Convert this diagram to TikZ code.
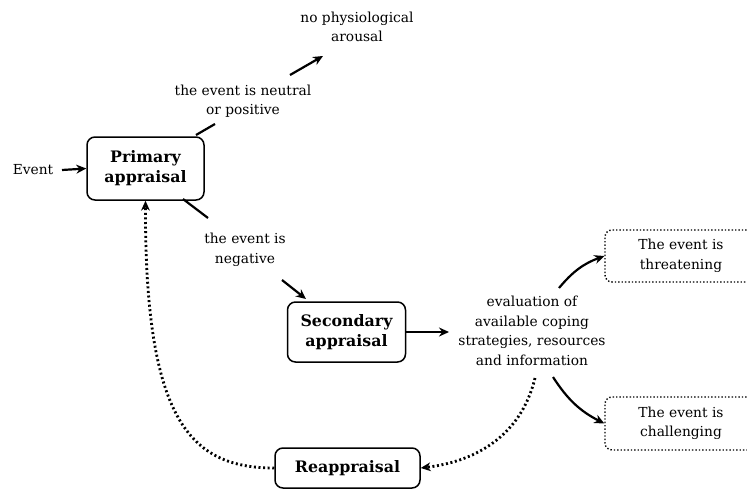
\documentclass[tikz,border=0pt]{standalone}
\usepackage{fontspec}
\setmainfont{DejaVu Serif}
\usetikzlibrary{arrows.meta}
\begin{document}
\begin{tikzpicture}[x=1pt,y=-1pt,
  every node/.style={font=\fontsize{13.8}{19.5}\selectfont, align=center, inner sep=0pt},
  mainbox/.style={draw, line width=1.5pt, rounded corners=8pt, font=\fontsize{15.8}{20}\selectfont\bfseries},
  dotbox/.style={draw, line width=1.4pt, dotted, rounded corners=7pt},
  arr/.style={line width=2.2pt, -{Stealth[length=10pt,width=9pt]}},
  plain/.style={line width=2.2pt},
  dotarr/.style={line width=2.8pt, dash pattern=on 2pt off 2.6pt, -{Stealth[length=10pt,width=9pt,line width=0pt]}}
]
\useasboundingbox (0,0) rectangle (747,490);
\clip (0,0) rectangle (747,490);

\node (event) at (33,170) {Event};
\node[mainbox, minimum width=117pt, minimum height=63pt] (primary) at (145.5,168.5) {Primary\\appraisal};
\node (neutral) at (243,101) {the event is neutral\\or positive};
\node (noarousal) at (357,27) {no physiological\\arousal};
\node (negative) at (245,250) {the event is\\negative};
\node[mainbox, minimum width=118pt, minimum height=60pt] (secondary) at (346.5,332) {Secondary\\appraisal};
\node (eval) at (532,331) {evaluation of\\available coping\\strategies, resources\\and information};
\node[dotbox, minimum width=152pt, minimum height=52pt] (threat) at (681,256) {The event is\\threatening};
\node[dotbox, minimum width=152pt, minimum height=53pt] (challenge) at (681,423.5) {The event is\\challenging};
\node[mainbox, minimum width=145pt, minimum height=40pt] (reapp) at (347.5,468) {Reappraisal};

\coordinate (ev1) at (62,170);
\coordinate (n1) at (196,135);
\coordinate (n2) at (215,124);
\coordinate (n3) at (290,75);
\coordinate (n4) at (323,56);
\coordinate (m1) at (183,199);
\coordinate (m2) at (208,218);
\coordinate (m3) at (282,280);
\coordinate (m4) at (306,299);
\coordinate (e1) at (559,288);
\coordinate (e2) at (553,377);
\coordinate (d1) at (535,378);

\draw[arr] (ev1) -- (primary.west);
\draw[plain] (n1) -- (n2);
\draw[arr] (n3) -- (n4);
\draw[plain] (m1) -- (m2);
\draw[arr] (m3) -- (m4);
\draw[arr] (secondary.east) -- (449,332) coordinate (s1);
\draw[arr] (e1) to[bend left=15] (threat.west);
\draw[arr] (e2) to[bend right=15] (challenge.west);
\draw[dotarr] (d1) .. controls (520,440) and (470,462) .. (reapp.east);
\draw[dotarr] (reapp.west) .. controls (190,468) and (145,420) .. (primary.south);
\end{tikzpicture}
\end{document}
